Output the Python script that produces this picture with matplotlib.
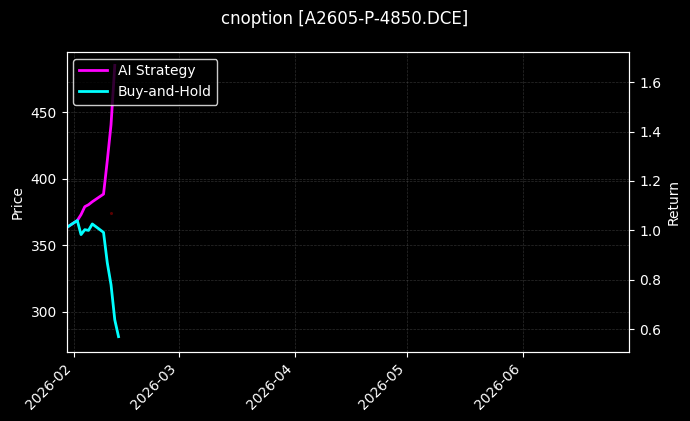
import matplotlib
matplotlib.use("Agg")
import matplotlib.pyplot as plt
import matplotlib.dates as mdates
import numpy as np
import pandas as pd

# data
dates = pd.to_datetime(["2026-01-30", "2026-02-02", "2026-02-03", "2026-02-04",
                        "2026-02-05", "2026-02-06", "2026-02-09", "2026-02-10",
                        "2026-02-11", "2026-02-12", "2026-02-13"])
ai_strategy = [1.01, 1.04, 1.064, 1.096, 1.104, 1.116, 1.147, 1.282, 1.428, 1.668, np.nan]
buy_hold = [1.01, 1.04, 0.983, 1.003, 1.000, 1.026, 0.992, 0.869, 0.780, 0.638, 0.570]
signal_dates = pd.to_datetime(["2026-02-11"])
signal_price = [374.2]

x_range = pd.to_datetime(["2026-01-30 03:00", "2026-06-29 07:00"])
price_range = (270, 495.6)
return_range = (0.509, 1.723)

plt.style.use("dark_background")
fig = plt.figure(figsize=(6.9, 4.21), dpi=100)
ax = fig.add_axes([0.0964, 0.1646, 0.8158, 0.7124])
ax2 = ax.twinx()

# price axis (only a faint signal marker visible)
ax.plot(signal_dates, signal_price, "o", color="#5a0000", markersize=1.2)
ax.set_ylabel("Price")
ax.set_ylim(*price_range)
ax.grid(True, linestyle="--", linewidth=0.5, color="gray", alpha=0.35)

ax2.plot(dates, ai_strategy, color="magenta", linewidth=2, label="AI Strategy")
ax2.plot(dates, buy_hold, color="cyan", linewidth=2, label="Buy-and-Hold")
ax2.set_ylabel("Return")
ax2.set_ylim(*return_range)
ax2.grid(True, axis="y", linestyle="--", linewidth=0.5, color="gray", alpha=0.35)

ax.set_xlim(x_range[0], x_range[1])
ax.xaxis.set_major_locator(mdates.MonthLocator())
ax.xaxis.set_major_formatter(mdates.DateFormatter("%Y-%m"))
plt.setp(ax.get_xticklabels(), rotation=45, ha="right")

leg = ax2.legend(loc="upper left", facecolor="black", edgecolor="white", framealpha=0.8)

fig.suptitle("cnoption [A2605-P-4850.DCE]", fontsize=12, y=0.977)

fig.savefig("out.png", dpi=100, facecolor="black")
